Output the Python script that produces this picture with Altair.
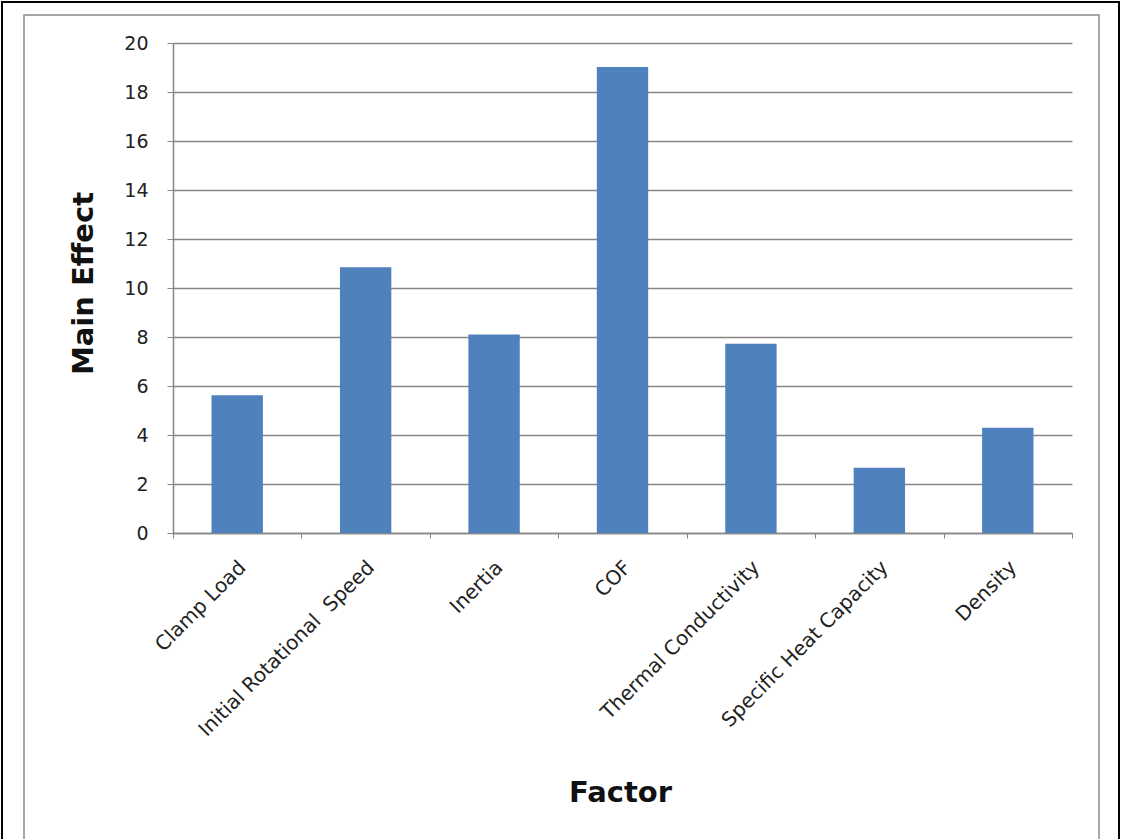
import altair as alt
import pandas as pd

# Main effect of each factor
factors = [
    "Clamp Load",
    "Initial Rotational\u00a0 Speed",
    "Inertia",
    "COF",
    "Thermal Conductivity",
    "Specific Heat Capacity",
    "Density",
]
main_effect = [5.62, 10.85, 8.1, 19.02, 7.72, 2.66, 4.3]

y_ticks = list(range(0, 21, 2))

df = pd.DataFrame({"Factor": factors, "Main Effect": main_effect})

W, H = 899, 490
AXIS_GRAY = "#868686"
LABEL_FONT = "DejaVu Sans"

bars = (
    alt.Chart(df)
    .mark_bar(color="#4F81BD", width=alt.RelativeBandSize(0.4))
    .encode(
        x=alt.X(
            "Factor:N",
            sort=factors,
            scale=alt.Scale(paddingInner=0, paddingOuter=0),
            axis=alt.Axis(
                title="Factor",
                labelAngle=-45,
                labelAlign="right",
                labelBaseline="middle",
                labelPadding=26,
                labelOffset=5,
                labelFontSize=20,
                labelFont=LABEL_FONT,
                labelColor="#222222",
                labelLimit=400,
                tickBand="extent",
                tickSize=5,
                tickColor=AXIS_GRAY,
                domainColor=AXIS_GRAY,
                domainWidth=1.5,
                titleFont=LABEL_FONT,
                titleFontSize=29,
                titleFontWeight="bold",
                titleColor="#111111",
                titleX=447,
                titleY=259,
                titleAnchor="middle",
                titleAlign="center",
                titleBaseline="middle",
                grid=False,
            ),
        ),
        y=alt.Y(
            "Main Effect:Q",
            scale=alt.Scale(domain=[0, 20], nice=False),
            axis=alt.Axis(
                title="Main Effect",
                values=y_ticks,
                labelFontSize=19,
                labelFont=LABEL_FONT,
                labelColor="#222222",
                labelPadding=19,
                tickSize=6,
                tickColor=AXIS_GRAY,
                domainColor=AXIS_GRAY,
                domainWidth=1.5,
                grid=True,
                gridColor=AXIS_GRAY,
                gridWidth=1.3,
                gridOpacity=1,
                titleFont=LABEL_FONT,
                titleFontSize=29,
                titleFontWeight="bold",
                titleColor="#111111",
                titleAngle=270,
                titleX=-90,
                titleY=240,
                titleAlign="center",
                titleBaseline="middle",
            ),
        ),
    )
)

frame_src = pd.DataFrame({"k": [0]})

# Chart-area frame (light gray) and outer page border (black)
inner_frame = (
    alt.Chart(frame_src)
    .mark_rect(fill=None, stroke="#8a8a8a", strokeWidth=1.5)
    .encode(
        x=alt.value(-149),
        x2=alt.value(926),
        y=alt.value(-28),
        y2=alt.value(900),
    )
)
outer_frame = (
    alt.Chart(frame_src)
    .mark_rect(fill=None, stroke="#000000", strokeWidth=2)
    .encode(
        x=alt.value(-171),
        x2=alt.value(946),
        y=alt.value(-41),
        y2=alt.value(900),
    )
)

chart = (
    alt.layer(outer_frame, inner_frame, bars)
    .properties(
        width=W,
        height=H,
        autosize=alt.AutoSizeParams(type="none"),
        padding={"left": 173, "top": 43, "right": 51, "bottom": 306},
        background="white",
    )
    .configure_view(stroke=None)
)

chart.save("out.html", embed_options={"renderer": "svg", "actions": False})
